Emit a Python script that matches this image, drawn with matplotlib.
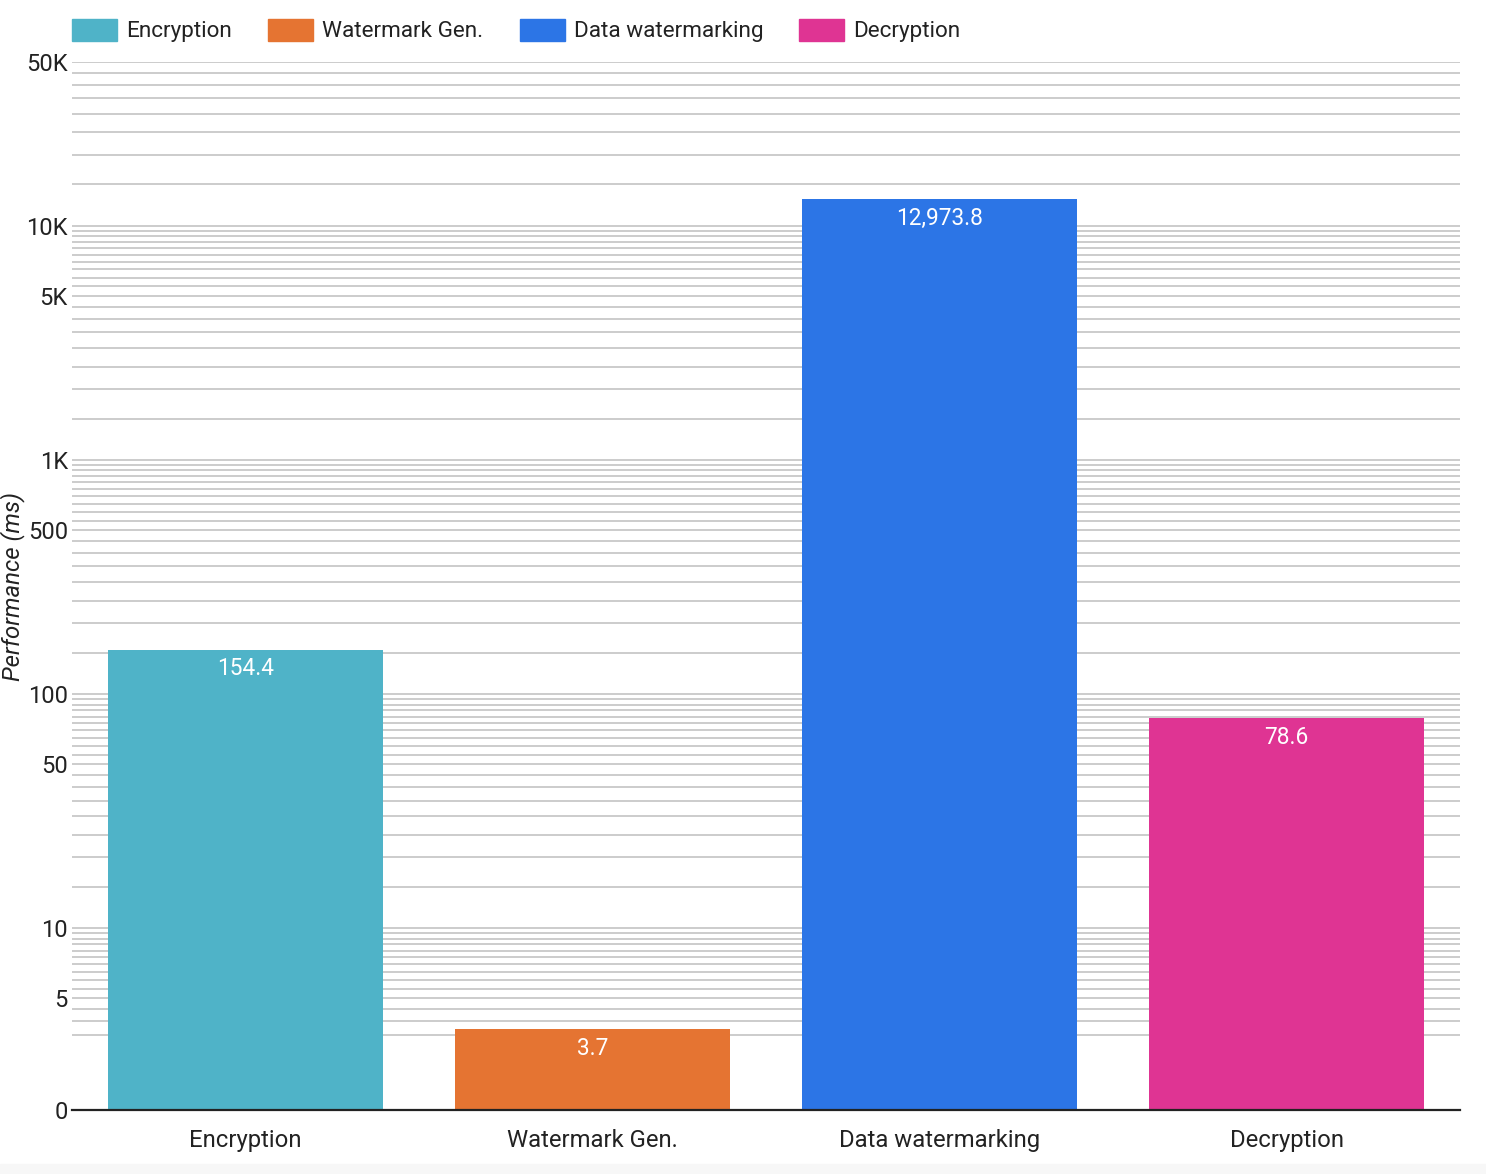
import numpy as np
import matplotlib.pyplot as plt
from matplotlib.ticker import FixedLocator, NullFormatter
from matplotlib.patches import Rectangle

plt.rcParams['font.family'] = ['Roboto', 'DejaVu Sans']

# data
steps = ['Encryption', 'Watermark Gen.', 'Data watermarking', 'Decryption']
times_ms = [154.4, 3.7, 12973.8, 78.6]
colors = ['#4FB3C8', '#E57432', '#2C75E6', '#DF3493']

major_vals = [5, 10, 50, 100, 500, 1000, 5000, 10000, 50000]
major_labels = ['5', '10', '50', '100', '500', '1K', '5K', '10K', '50K']

y_bottom = 1.668   # google's "0" on the log axis
y_top = 50000

fig = plt.figure(figsize=(14.86, 11.74), dpi=100)
ax = fig.add_axes([72/1486, 1 - 1110/1174, 1388/1486, 1048/1174])

x = np.arange(len(steps))
bars = ax.bar(x, times_ms, width=0.795, color=colors, zorder=3)
for b, v in zip(bars, times_ms):
    ax.annotate(f'{v:,.1f}', (b.get_x() + b.get_width()/2, v), xytext=(0, -5.5),
                textcoords='offset points', ha='center', va='top',
                color='white', fontsize=16.3, zorder=4)

ax.set_yscale('log')
ax.set_ylim(y_bottom, y_top)
ax.set_xlim(-0.5, 3.5)

ax.yaxis.set_major_locator(FixedLocator([y_bottom] + major_vals))
ax.set_yticklabels(['0'] + major_labels)
minor = [m * 0.5 * 10**k for k in range(0, 5) for m in range(2, 20)]
minor = [v for v in minor if 3.4 < v < y_top and v not in major_vals]
ax.yaxis.set_minor_locator(FixedLocator(minor))
ax.yaxis.set_minor_formatter(NullFormatter())

ax.grid(True, which='both', axis='y', color='#CCCCCC', linewidth=1.4, zorder=0)
ax.tick_params(axis='y', which='both', length=0, pad=3, labelsize=17, labelcolor='#222222')
ax.set_xticks(x)
ax.set_xticklabels(steps)
ax.tick_params(axis='x', length=0, pad=14, labelsize=17.2, labelcolor='#222222')

for s in ['top', 'right', 'left']:
    ax.spines[s].set_visible(False)
ax.spines['bottom'].set_color('#222222')
ax.spines['bottom'].set_linewidth(1.6)
ax.spines['bottom'].set_zorder(5)

# hide gridline at the bottom tick
ax.get_ygridlines()[0].set_visible(False)

fig.text(13/1486, 1 - 586/1174, 'Performance (ms)', rotation=90, style='italic',
         fontsize=17.3, color='#222222', ha='center', va='center')

# legend row
leg_x = [72, 268, 520, 799]
for lx, name, c in zip(leg_x, steps, colors):
    fig.patches.append(Rectangle((lx/1486, 1 - 41/1174), 45/1486, 22/1174,
                                 transform=fig.transFigure, color=c))
    fig.text((lx + 54)/1486, 1 - 31.5/1174, name, fontsize=16.2, color='#222222',
             ha='left', va='center')

# light strip at the bottom of the image
fig.patches.append(Rectangle((0, 0), 1, 10/1174, transform=fig.transFigure,
                             color='#F7F7F7', zorder=0))

fig.savefig('out.png', dpi=100)
